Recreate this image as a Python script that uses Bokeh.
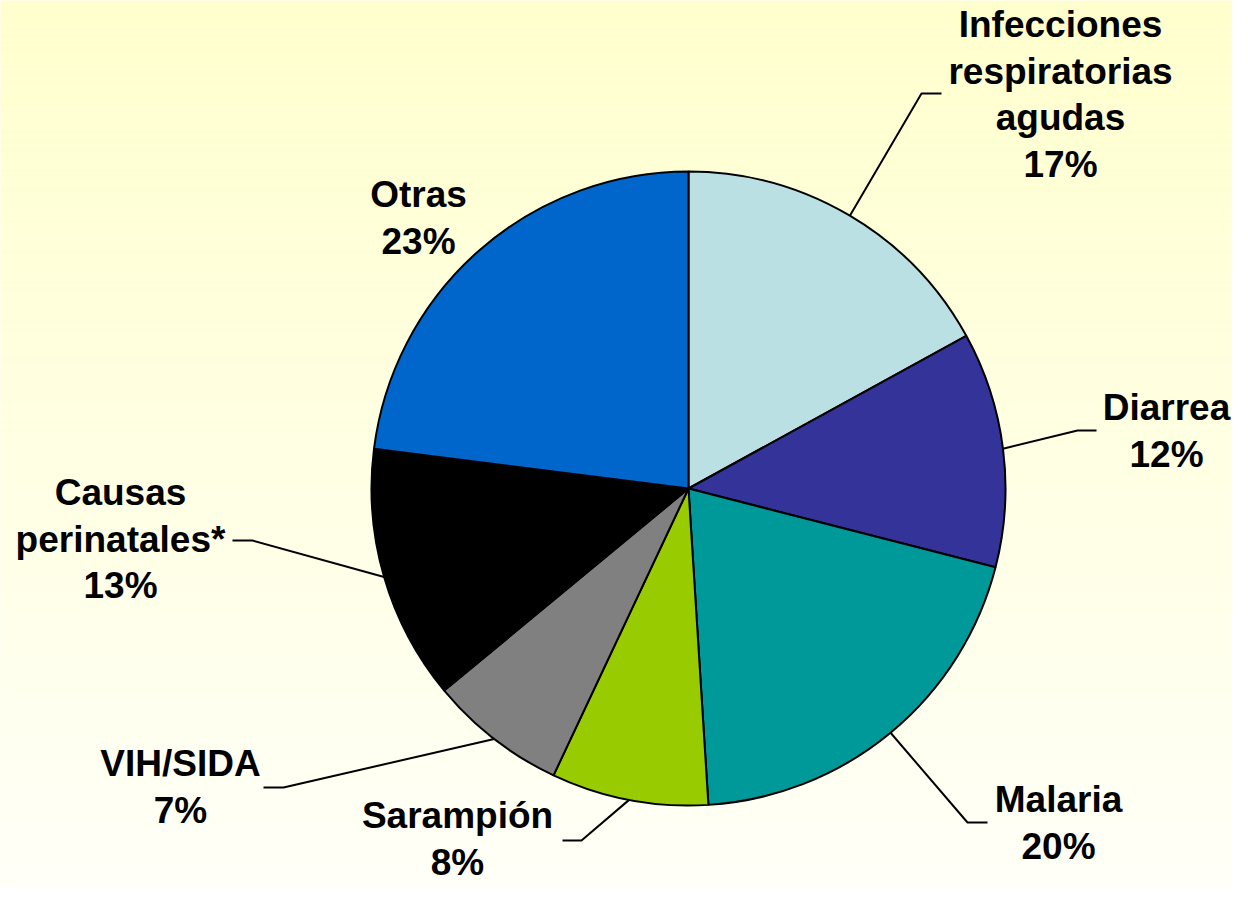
import numpy as np
from bokeh.plotting import figure
from bokeh.models import Range1d, ColumnDataSource
from bokeh.core.properties import value
from bokeh.embed import file_html
from bokeh.resources import INLINE

# ---- data ----
categories = ["Infecciones\nrespiratorias\nagudas", "Diarrea", "Malaria", "Sarampión",
              "VIH/SIDA", "Causas\nperinatales*", "Otras"]
percentages = [17, 12, 20, 8, 7, 13, 23]
colors = ["#BBE0E3", "#333399", "#009999", "#99CC00", "#808080", "#000000", "#0066CC"]

# ---- layout (picture pixel coordinates, origin top-left) ----
W, H = 1232, 887
CX, CY, R = 688, 488, 317
TEXT_SHIFT = 13  # compensation for text baseline rendering offset
label_x = [1060, 1166, 1058, 457, 180, 120, 418]
label_base = [37, 420, 812, 828, 776, 505, 207]
LINE_H = 46.5
elbow = [(921, 93), (1077, 430), (967, 822), (581, 840), (283, 787), (252, 540), None]
lend = [(941, 93), (1096, 430), (987, 822), (562, 840), (263, 787), (232, 540), None]

def fy(py):
    return H - py

p = figure(width=W, height=H, x_range=Range1d(0, W), y_range=Range1d(0, H),
           output_backend="svg", toolbar_location=None, x_axis_location=None,
           y_axis_location=None, min_border=0, outline_line_color=None)
p.grid.visible = False
p.background_fill_color = "#FFFFE8"
p.border_fill_color = "white"

# background gradient
N = H
img = np.empty((N, 2), dtype=np.uint32)
view = img.view(dtype=np.uint8).reshape((N, 2, 4))
top = np.array([255, 255, 206])
bot = np.array([255, 255, 248])
for j in range(N):
    py = H - j
    t = py / H
    c = top * (1 - t) + bot * t
    view[j, :, 0] = int(c[0]); view[j, :, 1] = int(c[1]); view[j, :, 2] = int(c[2]); view[j, :, 3] = 255
p.image_rgba(image=[img], x=0, y=0, dw=W, dh=H)

# wedges
fr = np.array(percentages, dtype=float) / sum(percentages)
cum = np.concatenate([[0], np.cumsum(fr)])
start = np.pi / 2 - 2 * np.pi * cum[:-1]
end = np.pi / 2 - 2 * np.pi * cum[1:]
src = ColumnDataSource(dict(start=start, end=end, color=colors))
p.wedge(x=CX, y=fy(CY), radius=R, start_angle="start", end_angle="end", direction="clock",
        fill_color="color", line_color="black", line_width=2, source=src)

# leader lines
xs, ys = [], []
for i in range(len(categories)):
    if elbow[i] is None:
        continue
    mid = 2 * np.pi * (cum[i] + cum[i + 1]) / 2
    sx = CX + R * np.sin(mid)
    sy = CY - R * np.cos(mid)
    xs.append([sx, elbow[i][0], lend[i][0]])
    ys.append([fy(sy), fy(elbow[i][1]), fy(lend[i][1])])
p.multi_line(xs=xs, ys=ys, line_color="black", line_width=2)

# labels
tx, ty, tt = [], [], []
for i, name in enumerate(categories):
    lines = name.split("\n") + [f"{percentages[i]}%"]
    for k, ln in enumerate(lines):
        tx.append(label_x[i])
        ty.append(fy(label_base[i] + k * LINE_H - TEXT_SHIFT))
        tt.append(ln)
p.text(x=tx, y=ty, text=tt, text_font=value("Liberation Sans"), text_font_style="bold",
       text_font_size="37px", text_align="center", text_baseline="alphabetic",
       text_color="black")

open("out.html", "w").write(file_html(p, INLINE))
